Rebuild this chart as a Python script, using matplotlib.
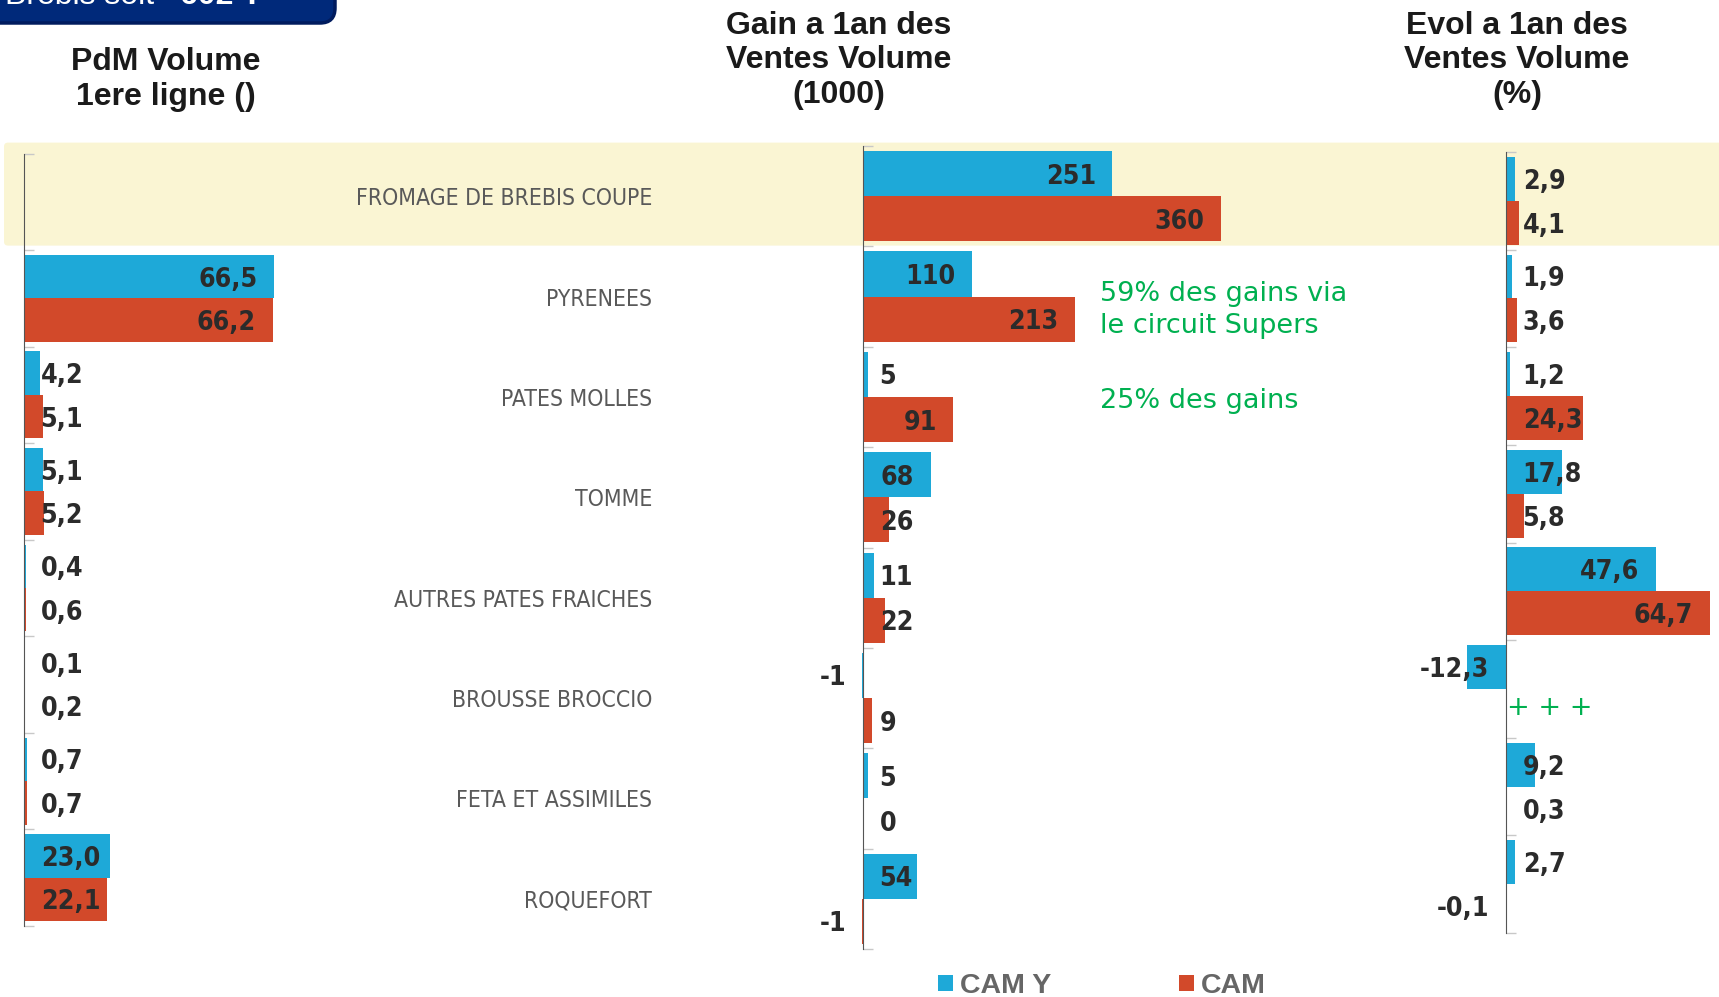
import os
import numpy as np
import matplotlib
matplotlib.use('Agg')
import matplotlib.pyplot as plt
from matplotlib import font_manager
from matplotlib.font_manager import FontProperties
from matplotlib.patches import FancyBboxPatch

W, H = 1719, 997

# data
categories = ["FROMAGE DE BREBIS COUPE", "PYRENEES", "PATES MOLLES", "TOMME",
              "AUTRES PATES FRAICHES", "BROUSSE BROCCIO", "FETA ET ASSIMILES", "ROQUEFORT"]
series_names = ["CAM Y", "CAM"]
pdm_camy = [np.nan, 66.5, 4.2, 5.1, 0.4, 0.1, 0.7, 23.0]
pdm_cam = [np.nan, 66.2, 5.1, 5.2, 0.6, 0.2, 0.7, 22.1]
gain_camy = [251, 110, 5, 68, 11, -1, 5, 54]
gain_cam = [360, 213, 91, 26, 22, 9, 0, -1]
evol_camy = [2.9, 1.9, 1.2, 17.8, 47.6, -12.3, 9.2, 2.7]
evol_cam = [4.1, 3.6, 24.3, 5.8, 64.7, np.nan, 0.3, -0.1]

# look for a narrow face (Arial Narrow look), fall back to plain Liberation Sans
files = {os.path.basename(f.fname).lower(): f.fname for f in font_manager.fontManager.ttflist}


def pick(options, fallback_weight):
    for name, scale in options:
        if name.lower() in files:
            return FontProperties(fname=files[name.lower()]), scale
    return FontProperties(family='Liberation Sans', weight=fallback_weight), 0.84


bold_fp, bold_k = pick([('LiberationSansNarrow-Bold.ttf', 1.0),
                        ('NotoSans-CondensedBold.ttf', 0.96),
                        ('DejaVuSansCondensed-Bold.ttf', 0.8)], 'bold')
reg_fp, reg_k = pick([('LiberationSansNarrow-Regular.ttf', 1.0),
                      ('NotoSans-Condensed.ttf', 0.96),
                      ('DejaVuSansCondensed.ttf', 0.82)], 'normal')

BLUE = '#1EA9D8'
RED = '#D2492A'
DARK = '#2B2B2B'
GREEN = '#00B050'
PAD = 12  # points

fig = plt.figure(figsize=(W / 100, H / 100), dpi=100)
renderer = fig.canvas.get_renderer()

# size the category font so the longest name spans ~298 px like the original
probe = fig.text(0, 0, categories[0], fontproperties=reg_fp, fontsize=18)
cat_size = 18 * 298 / probe.get_window_extent(renderer).width
probe.remove()


def px_axes(x0, x1, y0, y1):
    return fig.add_axes([x0 / W, 1 - y1 / H, (x1 - x0) / W, (y1 - y0) / H])


def make_panel(x0, x1, zero, scale, y0, y1, vb, vr):
    ax = px_axes(x0, x1, y0, y1)
    n = len(categories)
    y = np.arange(n)
    bb = ax.barh(y - 0.225, vb, height=0.45, color=BLUE)
    br = ax.barh(y + 0.225, vr, height=0.45, color=RED)
    ax.set_xlim((x0 - zero) / scale, (x1 - zero) / scale)
    ax.set_ylim(n - 0.5, -0.5)
    for s in ['top', 'right', 'bottom']:
        ax.spines[s].set_visible(False)
    ax.spines['left'].set_position(('data', 0))
    ax.spines['left'].set_color('#555555')
    ax.set_xticks([])
    ax.set_yticks([])
    ax.set_yticks(np.arange(-0.5, n), minor=True)
    ax.tick_params(axis='y', which='minor', direction='in', length=7,
                   color='#C8C8C8', width=1)
    ax.patch.set_alpha(0)
    return ax, bb, br


ax_l, _, _ = make_panel(24, 624, 24, 3.76, 153.5, 926, pdm_camy, pdm_cam)
ax_m, bars_b, bars_r = make_panel(840, 1262, 863, 0.994, 146, 949, gain_camy, gain_cam)
ax_r, _, _ = make_panel(1440, 1719, 1506, 3.15, 152, 933, evol_camy, evol_cam)

# category names hang off the middle panel
ax_m.set_yticks(np.arange(len(categories)))
ax_m.set_yticklabels(categories, fontproperties=reg_fp, fontsize=cat_size, color='#595959')
ax_m.tick_params(axis='y', which='major', length=0, pad=152)

pad_px = PAD * 100 / 72


def add_labels(ax, values, off, fmt):
    for i, v in enumerate(values):
        if np.isnan(v):
            continue
        yy = i + off
        kw = dict(textcoords='offset points', va='center_baseline', fontproperties=bold_fp,
                  fontsize=24 * bold_k, color=DARK)
        if v < 0:
            ax.annotate(fmt(v), (0, yy), xytext=(-PAD, 0), ha='right', **kw)
            continue
        t = ax.annotate(fmt(v), (v, yy), xytext=(-PAD, 0), ha='right', **kw)
        w = t.get_window_extent(renderer).width
        bar_px = ax.transData.transform((v, yy))[0] - ax.transData.transform((0, yy))[0]
        if bar_px < w + 2 * pad_px:
            t.remove()
            ax.annotate(fmt(v), (0, yy), xytext=(PAD, 0), ha='left', **kw)


dec = lambda v: f"{v:.1f}".replace('.', ',')
whole = lambda v: f"{v:.0f}"
add_labels(ax_l, pdm_camy, -0.225, dec)
add_labels(ax_l, pdm_cam, 0.225, dec)
add_labels(ax_m, gain_camy, -0.225, whole)
add_labels(ax_m, gain_cam, 0.225, whole)
add_labels(ax_r, evol_camy, -0.225, dec)
add_labels(ax_r, evol_cam, 0.225, dec)

# highlighted first row
fig.patches.append(FancyBboxPatch((4 / 100, (H - 245.6) / 100), (W - 4) / 100 + 0.2, 1.03,
                                  boxstyle='round,pad=0,rounding_size=0.04',
                                  transform=fig.dpi_scale_trans, fc='#FAF5D3', ec='none',
                                  zorder=-1))

# banner cut at the top
fig.patches.append(FancyBboxPatch((-0.3, (H - 23) / 100), 3.65, 1.0,
                                  boxstyle='round,pad=0,rounding_size=0.15',
                                  transform=fig.dpi_scale_trans, fc='#00297A', ec='#001B5E',
                                  lw=2.5, zorder=-1))
fig.text(5 / W, 1 - 4 / H, "Brebis soit ", color='white', fontsize=23,
         family='Liberation Sans', va='baseline')
fig.text(180 / W, 1 - 4 / H, "602 T", color='white', fontsize=23,
         family='Liberation Sans', weight='bold', va='baseline')

# column titles
title_kw = dict(fontsize=23, family='Liberation Sans', weight='bold', color='#1A1A1A',
                ha='center', va='baseline')
for line, yb in zip(["PdM Volume", "1ere ligne ()"], [69.5, 105.5]):
    fig.text(166 / W, 1 - yb / H, line, **title_kw)
for line, yb in zip(["Gain a 1an des", "Ventes Volume", "(1000)"], [33.5, 68.5, 102.5]):
    fig.text(839 / W, 1 - yb / H, line, **title_kw)
for line, yb in zip(["Evol a 1an des", "Ventes Volume", "(%)"], [33.5, 68.5, 102.5]):
    fig.text(1517 / W, 1 - yb / H, line, **title_kw)

# green comments
note_kw = dict(fontsize=19.5, family='DejaVu Sans', color=GREEN, ha='left', va='baseline')
fig.text(1100 / W, 1 - 301 / H, "59% des gains via", **note_kw)
fig.text(1100 / W, 1 - 333 / H, "le circuit Supers", **note_kw)
fig.text(1100 / W, 1 - 408 / H, "25% des gains", **note_kw)
fig.text(1507 / W, 1 - 708 / H, "+ + +", fontsize=19.5, family='DejaVu Sans', color=GREEN,
         ha='left', va='center')

fig.legend(handles=[bars_b, bars_r], labels=series_names, loc='center left',
           bbox_to_anchor=(938 / W, 1 - 986 / H), ncol=2, frameon=False,
           borderaxespad=0, borderpad=0, handlelength=0.52, handleheight=0.52,
           handletextpad=0.25, columnspacing=4.5,
           prop={'family': 'Liberation Sans', 'weight': 'bold', 'size': 20.5},
           labelcolor='#666666')

fig.savefig('out.png', dpi=100)
